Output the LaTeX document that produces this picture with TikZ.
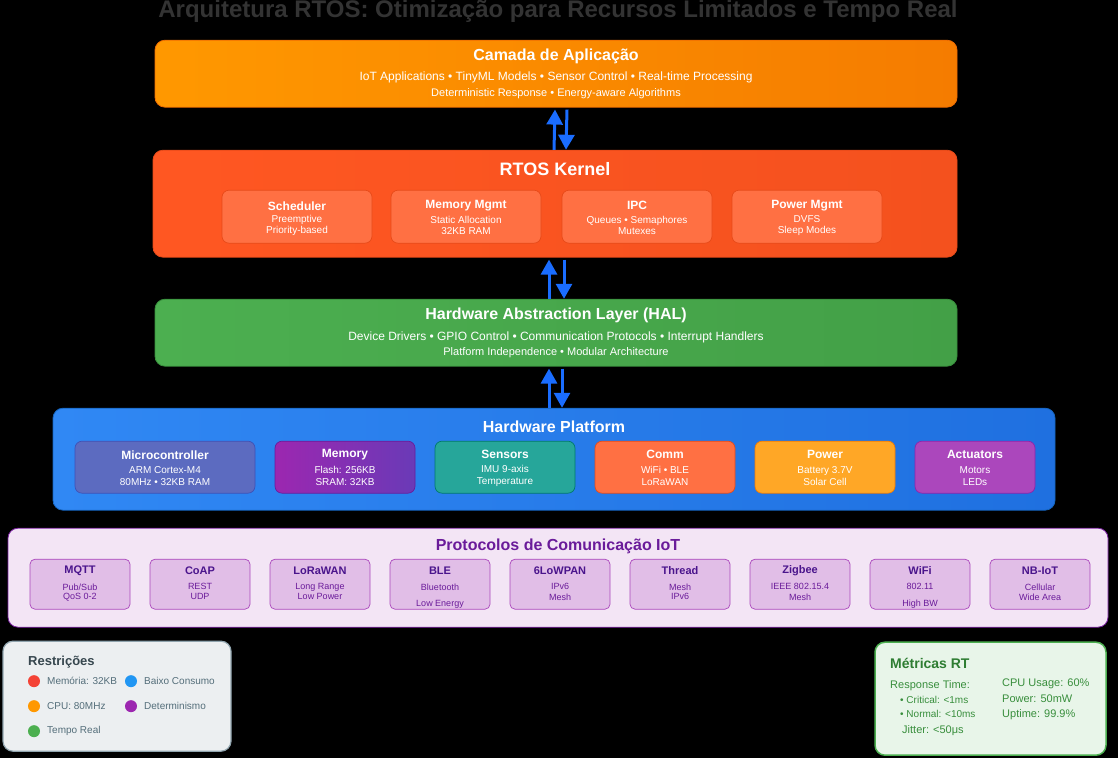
\documentclass[tikz,border=0pt]{standalone}
\usepackage{fontspec}
\setmainfont{Liberation Sans}
\usetikzlibrary{calc,positioning,arrows.meta}
\definecolor{titlegray}{HTML}{333333}
\definecolor{appA}{HTML}{FF9800}\definecolor{appB}{HTML}{F57C00}\definecolor{appD}{HTML}{EF6C00}
\definecolor{kerA}{HTML}{FF5722}\definecolor{kerB}{HTML}{F4511E}\definecolor{kerD}{HTML}{E64A19}
\definecolor{kerbox}{HTML}{FF7043}
\definecolor{halA}{HTML}{4CAF50}\definecolor{halB}{HTML}{43A047}\definecolor{halD}{HTML}{388E3C}
\definecolor{hwA}{HTML}{3088F4}\definecolor{hwB}{HTML}{1F70E0}\definecolor{hwD}{HTML}{1565C0}
\definecolor{mcu}{HTML}{5C6BC0}\definecolor{mcuD}{HTML}{3F51B5}
\definecolor{memA}{HTML}{9C27B0}\definecolor{memB}{HTML}{6A3AB7}\definecolor{memD}{HTML}{6A1B9A}
\definecolor{sens}{HTML}{26A69A}\definecolor{sensD}{HTML}{00796B}
\definecolor{comm}{HTML}{FF7043}\definecolor{commD}{HTML}{E64A19}
\definecolor{pwr}{HTML}{FFA726}\definecolor{pwrD}{HTML}{F57C00}
\definecolor{act}{HTML}{AB47BC}\definecolor{actD}{HTML}{8E24AA}
\definecolor{protofill}{HTML}{F3E5F5}\definecolor{protoD}{HTML}{7B1FA2}
\definecolor{pbox}{HTML}{E1BEE7}\definecolor{pboxD}{HTML}{AB47BC}
\definecolor{ptitle}{HTML}{6A1B9A}\definecolor{ptext}{HTML}{4A148C}
\definecolor{restfill}{HTML}{ECEFF1}\definecolor{restD}{HTML}{90A4AE}
\definecolor{resttitle}{HTML}{37474F}\definecolor{resttext}{HTML}{546E7A}
\definecolor{metfill}{HTML}{E8F5E9}\definecolor{metD}{HTML}{4CAF50}
\definecolor{mettitle}{HTML}{2E7D32}\definecolor{mettext}{HTML}{388E3C}
\definecolor{flow}{HTML}{1A6DFF}
\definecolor{dotred}{HTML}{F44336}\definecolor{dotblue}{HTML}{2196F3}
\definecolor{dotorange}{HTML}{FF9800}\definecolor{dotpurple}{HTML}{9C27B0}
\definecolor{dotgreen}{HTML}{4CAF50}

\begin{document}
\begin{tikzpicture}[x=1pt,y=-1pt]

\tikzset{layer/.style={rounded corners=10pt,draw=#1,line width=0.8pt,inner sep=0pt},
subbox/.style={rounded corners=7pt,draw=#1,line width=0.7pt,inner sep=0pt},
big/.style={font=\fontsize{#1}{#1}\selectfont\bfseries,inner sep=0pt},
small/.style={font=\fontsize{#1}{#1}\selectfont,inner sep=0pt},
lines/.style={font=\fontsize{10}{12}\selectfont,inner sep=0pt,align=center,text=white},
dot/.style={circle,fill=#1,minimum size=12pt,inner sep=0pt},
flowup/.style={draw=flow,line width=3pt,-{Triangle[width=16pt,length=15pt]}}}

% Background
\fill[black] (0,0) rectangle (1118,758);
\node[big=24,text=titlegray] (title) at (558,11) {Arquitetura RTOS: Otimização para Recursos Limitados e Tempo Real};

% Layers
\node[layer=appD,left color=appA,right color=appB,minimum width=802pt,minimum height=67pt] (app) at (556,73.5) {};
\node[layer=kerD,left color=kerA,right color=kerB,minimum width=804pt,minimum height=107pt] (kernel) at (555,203.5) {};
\node[layer=halD,left color=halA,right color=halB,minimum width=802pt,minimum height=67pt] (hal) at (556,332.5) {};
\node[layer=hwD,left color=hwA,right color=hwB,minimum width=1002pt,minimum height=102pt] (hw) at (554,459) {};

% Application layer
\node[big=16,text=white] (appT) at ($(app.north)+(0,17)$) {Camada de Aplicação};
\node[small=12,text=white] (app1) at ($(app.north)+(0,38)$) {IoT Applications • TinyML Models • Sensor Control • Real-time Processing};
\node[small=11,text=white] (app2) at ($(app.north)+(0,54)$) {Deterministic Response • Energy-aware Algorithms};

% Kernel
\node[big=18,text=white] (kerT) at ($(kernel.north)+(0,19)$) {RTOS Kernel};
\foreach \x/\n/\name/\a/\b in {297/sch/Scheduler/Preemptive/Priority-based,
  466/mem/Memory Mgmt/Static Allocation/32KB RAM,
  637/ipc/IPC/Queues • Semaphores/Mutexes,
  807/pm/Power Mgmt/DVFS/Sleep Modes} {
  \node[subbox=kerD,fill=kerbox,minimum width=150pt,minimum height=53pt] (\n) at (\x,216.5) {};
  \node[big=12,text=white] (\n T) at ($(\n.north)+(0,16)$) {\name};
  \node[lines,font=\fontsize{10}{11}\selectfont] (\n L) at ($(\n.north)+(0,36)$) {\a\\\b};
}

% HAL
\node[big=16,text=white] (halT) at ($(hal.north)+(0,17)$) {Hardware Abstraction Layer (HAL)};
\node[small=12,text=white] (hal1) at ($(hal.north)+(0,39)$) {Device Drivers • GPIO Control • Communication Protocols • Interrupt Handlers};
\node[small=11,text=white] (hal2) at ($(hal.north)+(0,54)$) {Platform Independence • Modular Architecture};

% Hardware platform
\node[big=16,text=white] (hwT) at ($(hw.north)+(0,19)$) {Hardware Platform};
\foreach \x/\w/\n/\col/\name/\a/\b in {165/180/mcu/mcu/Microcontroller/ARM Cortex-M4/80MHz • 32KB RAM,
  505/140/sens/sens/Sensors/IMU 9-axis/Temperature,
  665/140/comm/comm/Comm/WiFi • BLE/LoRaWAN,
  825/140/pwr/pwr/Power/Battery 3.7V/Solar Cell,
  975/120/act/act/Actuators/Motors/LEDs} {
  \node[subbox=\col D,fill=\col,minimum width=\w pt,minimum height=52pt] (\n) at (\x,467) {};
  \node[big=12,text=white] (\n T) at ($(\n.north)+(0,14)$) {\name};
  \node[lines] (\n L) at ($(\n.north)+(0,35)$) {\a\\\b};
}
\node[subbox=memD,left color=memA,right color=memB,minimum width=140pt,minimum height=52pt] (memory) at (345,467) {};
\node[big=12,text=white] (memoryT) at ($(memory.north)+(0,14)$) {Memory};
\node[lines] (memoryL) at ($(memory.north)+(0,35)$) {Flash: 256KB\\SRAM: 32KB};

% Arrows between layers
\draw[flowup] ($(kernel.north)+(-1,0)$) -- ($(app.south)+(-1,2)$);
\draw[flowup] ($(app.south)+(11,2)$) -- ($(kernel.north)+(11,0)$);
\draw[flowup] ($(hal.north)+(-7,0)$) -- ($(kernel.south)+(-6,2)$);
\draw[flowup] ($(kernel.south)+(9,2)$) -- ($(hal.north)+(8,0)$);
\draw[flowup] ($(hw.north)+(-5,0)$) -- ($(hal.south)+(-7,2)$);
\draw[flowup] ($(hal.south)+(6,2)$) -- ($(hw.north)+(8,0)$);

% Protocols
\node[layer=protoD,fill=protofill,minimum width=1100pt,minimum height=99pt] (proto) at (558,577.5) {};
\node[big=16,text=ptitle] (protoT) at ($(proto.north)+(0,19)$) {Protocolos de Comunicação IoT};
\foreach \i/\name/\a/\b/\gap in {0/MQTT/{Pub/Sub}/QoS 0-2/10, 1/CoAP/REST/UDP/10,
  2/LoRaWAN/Long Range/Low Power/10, 3/BLE/Bluetooth/Low Energy/17,
  4/6LoWPAN/IPv6/Mesh/10, 5/Thread/Mesh/IPv6/10, 6/Zigbee/IEEE 802.15.4/Mesh/10,
  7/WiFi/802.11/High BW/17, 8/NB-IoT/Cellular/Wide Area/10} {
  \node[subbox=pboxD,rounded corners=5pt,fill=pbox,minimum width=100pt,minimum height=50pt] (p\i) at (80+120*\i,584) {};
  \node[big=11,text=ptext] (p\i T) at ($(p\i.north)+(0,12)$) {\name};
  \node[small=9,text=ptitle] (p\i A) at ($(p\i.north)+(0,28)$) {\a};
  \node[small=9,text=ptitle] (p\i B) at ($(p\i A)+(0,\gap)$) {\b};
}

% Restrictions
\node[layer=restD,line width=1.2pt,fill=restfill,minimum width=228pt,minimum height=110pt] (restr) at (117,696) {};
\node[big=13,text=resttitle,anchor=west] (restrT) at (28,662) {Restrições};
\foreach \x/\y/\col/\txt in {34/681/dotred/Memória: 32KB, 131/681/dotblue/Baixo Consumo,
  34/706/dotorange/CPU: 80MHz, 131/706/dotpurple/Determinismo, 34/731/dotgreen/Tempo Real} {
  \node[dot=\col] (d\x\y) at (\x,\y) {};
  \node[small=10,text=resttext,anchor=west] at ($(d\x\y)+(13,0)$) {\txt};
}

% Metrics
\node[layer=metD,line width=1.5pt,fill=metfill,minimum width=231pt,minimum height=113pt] (metric) at (990.5,698.5) {};
\node[big=14,text=mettitle,anchor=west] (metricT) at (890,663) {Métricas RT};
\node[small=11,text=mettext,anchor=west] (rt) at (890,685) {Response Time:};
\node[small=10,text=mettext,anchor=west] (crit) at (900,699.5) {• Critical: <1ms};
\node[small=10,text=mettext,anchor=west] (norm) at (900,714) {• Normal: <10ms};
\node[small=11,text=mettext,anchor=west] (jit) at (902,730) {Jitter: <50μs};
\node[small=11,text=mettext,anchor=west] (cpu) at (1002,684) {CPU Usage: 60\%};
\node[small=11,text=mettext,anchor=west] (pow) at (1002,699) {Power: 50mW};
\node[small=11,text=mettext,anchor=west] (up) at (1002,714) {Uptime: 99.9\%};

\end{tikzpicture}
\end{document}
